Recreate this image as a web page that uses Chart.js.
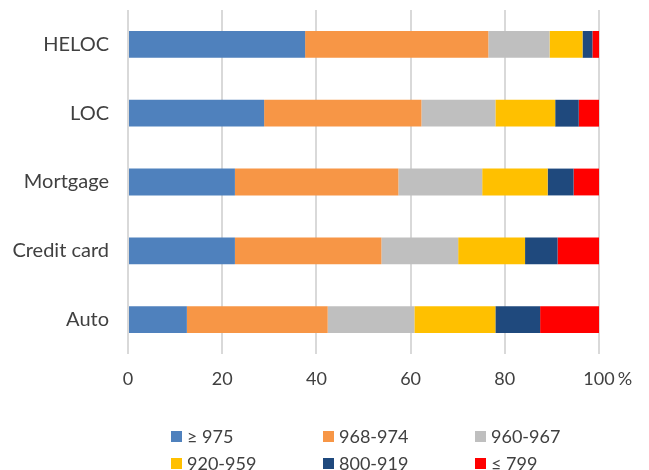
<!DOCTYPE html>
<html><head><meta charset="utf-8">
<script src="https://cdn.jsdelivr.net/npm/chart.js@4/dist/chart.umd.min.js"></script>
<style>
html,body{margin:0;padding:0;background:#fff;}
#wrap{position:relative;width:649px;height:470px;}
#legend{position:absolute;left:0;top:0;width:649px;height:470px;pointer-events:none;font-family:Lato,sans-serif;font-size:18px;color:#404040;}
.li{position:absolute;display:flex;align-items:center;white-space:nowrap;}
.sw{width:11px;height:11px;margin-right:5px;}
</style></head>
<body><div id="wrap"><canvas id="c" width="649" height="470"></canvas><div id="legend"></div></div>
<script>
const categories = ['HELOC','LOC','Mortgage','Credit card','Auto'];
const seriesNames = ['≥ 975','968-974','960-967','920-959','800-919','≤ 799'];
const s975 = [37.6, 28.9, 22.7, 22.7, 12.5];
const s968 = [38.9, 33.4, 34.7, 31.1, 29.9];
const s960 = [13.0, 15.7, 17.8, 16.3, 18.4];
const s920 = [7.0, 12.7, 13.9, 14.2, 17.2];
const s800 = [2.1, 5.0, 5.5, 6.9, 9.5];
const s799 = [1.4, 4.3, 5.4, 8.8, 12.5];
const tickValues = [0, 20, 40, 60, 80, 100];
const unitLabel = '%';
const colors = ['#4f81bd','#f79646','#bfbfbf','#ffc000','#1f497d','#ff0000'];
const seriesData = [s975, s968, s960, s920, s800, s799];

const datasets = seriesData.map((d,i)=>({label:seriesNames[i],data:d,backgroundColor:colors[i],borderWidth:0,barPercentage:0.39,categoryPercentage:1}));

const tickFont = {family:'Lato',size:18};
const unitPlugin = {
  id:'unit',
  afterDraw(chart){
    const xs = chart.scales.x, ctx = chart.ctx;
    const last = tickValues[tickValues.length-1];
    const px = xs.getPixelForValue(last);
    ctx.save();
    ctx.font = tickFont.size+'px '+tickFont.family;
    const w = ctx.measureText(String(last)).width;
    ctx.fillStyle = '#404040';
    ctx.textBaseline = 'middle';
    ctx.textAlign = 'left';
    ctx.fillText(unitLabel, px + w/2 + 3, chart.chartArea.bottom + 14 + tickFont.size*0.6);
    ctx.restore();
  }
};

new Chart(document.getElementById('c'),{
  type:'bar',
  data:{labels:categories,datasets},
  plugins:[unitPlugin],
  options:{
    indexAxis:'y',responsive:false,animation:false,
    layout:{padding:{top:10,right:50,bottom:76,left:0}},
    plugins:{legend:{display:false},tooltip:{enabled:false}},
    scales:{
      x:{stacked:true,min:0,max:100,
        afterBuildTicks:s=>{s.ticks=tickValues.map(v=>({value:v}));},
        afterFit:s=>{s.height=40;s.paddingLeft=0;s.paddingRight=0;},
        grid:{color:'#d9d9d9',lineWidth:2,drawTicks:false},
        border:{display:false},
        ticks:{padding:14,color:'#404040',font:tickFont,callback:v=>String(v)}
      },
      y:{stacked:true,
        afterFit:s=>{s.width=128;s.paddingTop=0;s.paddingBottom=0;},
        grid:{display:false,drawTicks:false},
        border:{display:false},
        ticks:{padding:19,color:'#404040',font:{family:'Lato',size:20}}
      }
    }
  }
});

const lg=document.getElementById('legend');
const colX=[171,323,475], rowY=[436,463];
seriesNames.forEach((n,i)=>{
  const el=document.createElement('div');el.className='li';
  el.style.left=colX[i%3]+'px';el.style.top=(rowY[Math.floor(i/3)]-12)+'px';el.style.height='24px';
  const sw=document.createElement('span');sw.className='sw';sw.style.background=colors[i];
  const t=document.createElement('span');t.textContent=n;
  el.appendChild(sw);el.appendChild(t);lg.appendChild(el);
});
</script></body></html>
